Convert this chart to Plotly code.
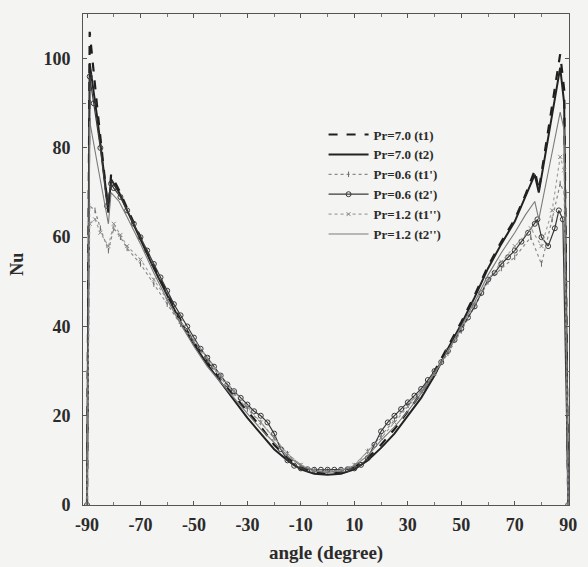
import plotly.graph_objects as go

# ---------------- data ----------------
angle_main = [-90, -89, -86, -82, -81, -78, -75, -70, -65, -60, -55, -50, -45, -40,
              -35, -30, -25, -20, -15, -10, -5, 0, 5, 10, 15, 20, 25, 30, 35, 40,
              45, 50, 55, 60, 65, 70, 74, 77.5, 79, 83, 87, 88.5, 90]

nu_pr7_t1 = [0, 106, 88, 65.5, 74, 70.5, 66.5, 60, 53.5, 47.5, 41.5, 36.5, 32, 28,
             24.5, 21, 17.5, 13.5, 10.5, 8.5, 7.3, 7, 7.3, 8.5, 10.5, 13.5, 17, 21, 25, 30,
             35.5, 41, 47, 53.5, 59, 64, 69.5, 75, 70.5, 86, 101, 93, 0]

nu_pr7_t2 = [0, 99, 86, 66, 73, 70, 66, 59.5, 53, 47, 41, 36, 31.5, 27.5,
             23.5, 19.5, 16, 12.5, 10, 8, 7, 6.8, 7, 8, 10, 12.8, 16, 20, 24, 29,
             35, 40.5, 46.5, 53, 58.5, 63.5, 69, 74, 70, 84, 98, 90, 0]

nu_pr12_t2 = [0, 86, 76, 63, 70, 68, 64.5, 58.5, 52, 46, 40.5, 35.5, 31, 27.5,
              24, 20.5, 17, 14, 11, 8.8, 7.6, 7.3, 7.6, 8.8, 11, 14.5, 17.5, 21, 25, 29.5,
              34.5, 40, 45.5, 51.5, 56.5, 61, 65, 68, 64, 76, 88, 84, 0]

angle_t1p = [-90, -89, -87, -85, -82, -80, -77.5, -75, -70, -65, -60, -55, -50, -45,
             -40, -35, -30, -25, -20, -15, -10, -5, 0, 5, 10, 15, 20, 25, 30, 35, 40,
             45, 50, 55, 60, 65, 70, 76, 80, 84, 87, 88.5, 90]
nu_pr06_t1 = [0, 67, 66, 62, 57, 62, 60, 57.5, 54, 49.5, 45, 40.5, 36.5, 32.5,
              28.5, 25, 21.5, 18.5, 15, 11.5, 8.8, 7.8, 7.6, 7.8, 8.8, 12, 15.5, 19, 22.5, 25.5, 29.5,
              34, 39, 44.5, 50, 53, 55.5, 60, 54, 64, 72, 70, 0]
nu_pr12_t1 = [0, 63, 64, 61, 58, 63, 60.5, 58, 55, 50.5, 46, 41, 37, 33,
              29, 25.5, 22, 18.5, 15, 11.5, 9, 7.8, 7.5, 7.8, 9, 12, 15, 18.5, 22, 25.5, 29.5,
              34.5, 39.5, 45, 50.5, 54.5, 58, 62, 58, 66, 78, 75, 0]

angle_t2p = [-90, -89, -87.5, -85, -82.5, -81, -80, -77.5, -75, -72.5, -70, -67.5, -65,
             -62.5, -60, -57.5, -55, -52.5, -50, -47.5, -45, -42.5, -40, -37.5, -35,
             -32.5, -30, -27.5, -25, -22.5, -20, -17.5, -15, -12.5, -10, -7.5, -5, -2.5,
             0, 2.5, 5, 7.5, 10, 12.5, 15, 17.5, 20, 22.5, 25, 27.5, 30, 32.5, 35, 37.5,
             40, 42.5, 45, 47.5, 50, 52.5, 55, 57.5, 60, 62.5, 65, 67.5, 70, 72.5, 75,
             77.5, 78.5, 80, 82.5, 85, 86.5, 88, 90]
nu_pr06_t2 = [0, 96, 90, 80, 67, 72, 71, 69, 66, 63, 60, 57, 54,
              51, 48, 45, 42.5, 40, 37.5, 35, 33, 31, 29, 27, 25.5,
              24, 22.5, 21, 20, 18.5, 16, 12.5, 10, 8.8, 8.2, 8, 7.9, 7.9,
              7.9, 7.9, 7.9, 8, 8.2, 9, 10.5, 13.5, 16.5, 18.5, 20, 21.5, 23, 24.5, 26, 28,
              30, 32, 34.5, 37, 39.5, 42, 44.5, 47.5, 50.5, 52, 54, 55.5, 57, 59, 61,
              63, 64, 60, 58, 62, 66, 64, 0]

x_ticks = [-90, -70, -50, -30, -10, 10, 30, 50, 70, 90]
x_tick_text = ["-90", "-70", "-50", "-30", "-10", "10", "30", "50", "70", "90"]
y_ticks = [0, 20, 40, 60, 80, 100]

# ---------------- figure ----------------
ink = "#2b2b2b"
serif = "Liberation Serif"
bg = "#f4f4f2"

fig = go.Figure()
fig.add_trace(go.Scatter(x=angle_main, y=nu_pr7_t1, name="Pr=7.0 (t1)", mode="lines",
                         line=dict(color="#1e1e1e", width=2.2, dash="dash")))
fig.add_trace(go.Scatter(x=angle_main, y=nu_pr7_t2, name="Pr=7.0 (t2)", mode="lines",
                         line=dict(color="#222222", width=2.0)))
fig.add_trace(go.Scatter(x=angle_t1p, y=nu_pr06_t1, name="Pr=0.6 (t1')", mode="lines+markers",
                         line=dict(color="#8a8a8a", width=1.2, dash="dot"),
                         marker=dict(symbol="line-ns-open", size=4, color="#6a6a6a",
                                     line=dict(width=1, color="#6a6a6a"))))
fig.add_trace(go.Scatter(x=angle_t2p, y=nu_pr06_t2, name="Pr=0.6 (t2')", mode="lines+markers",
                         line=dict(color="#3a3a3a", width=1.2),
                         marker=dict(symbol="circle-open", size=5, color="#3a3a3a",
                                     line=dict(width=1, color="#3a3a3a"))))
fig.add_trace(go.Scatter(x=angle_t1p, y=nu_pr12_t1, name="Pr=1.2 (t1'')", mode="lines+markers",
                         line=dict(color="#a0a0a0", width=1.2, dash="dot"),
                         marker=dict(symbol="x-thin-open", size=4, color="#8a8a8a",
                                     line=dict(width=1, color="#8a8a8a"))))
fig.add_trace(go.Scatter(x=angle_main, y=nu_pr12_t2, name="Pr=1.2 (t2'')", mode="lines",
                         line=dict(color="#7a7a7a", width=1.1)))

axis_common = dict(showline=True, linecolor="#555555", linewidth=1, mirror="ticks",
                   ticks="inside", ticklen=4, tickcolor="#555555", showgrid=False,
                   zeroline=False,
                   tickfont=dict(family=serif, size=18, color=ink, weight="bold"),
                   minor=dict(ticks="inside", ticklen=3, tickcolor="#777777"))

fig.update_xaxes(range=[-91.5, 90.3], tickvals=x_ticks, ticktext=x_tick_text,
                 minor_dtick=10, minor_tick0=-90, ticklabelstandoff=3, **axis_common)
fig.update_yaxes(range=[0, 110], tickvals=y_ticks, minor_dtick=10, minor_tick0=0,
                 ticklabelstandoff=8, **axis_common)

fig.add_annotation(text="angle (degree)", x=0.5, y=-0.097, xref="paper", yref="paper",
                   showarrow=False, xanchor="center", yanchor="middle",
                   font=dict(family=serif, size=19, color=ink, weight="bold"))
fig.add_annotation(text="Nu", x=-0.135, y=0.49, xref="paper", yref="paper",
                   showarrow=False, textangle=-90, xanchor="center", yanchor="middle",
                   font=dict(family=serif, size=18, color=ink, weight="bold"))

fig.update_layout(
    width=588, height=567,
    margin=dict(l=83, r=11, t=14, b=62),
    paper_bgcolor=bg, plot_bgcolor=bg,
    showlegend=True,
    legend=dict(x=0.495, y=0.785, xanchor="left", yanchor="top",
                bgcolor="rgba(0,0,0,0)", borderwidth=0,
                font=dict(family=serif, size=13, color=ink, weight="bold"),
                tracegroupgap=0, itemwidth=40),
)

fig.write_html("out.html")
